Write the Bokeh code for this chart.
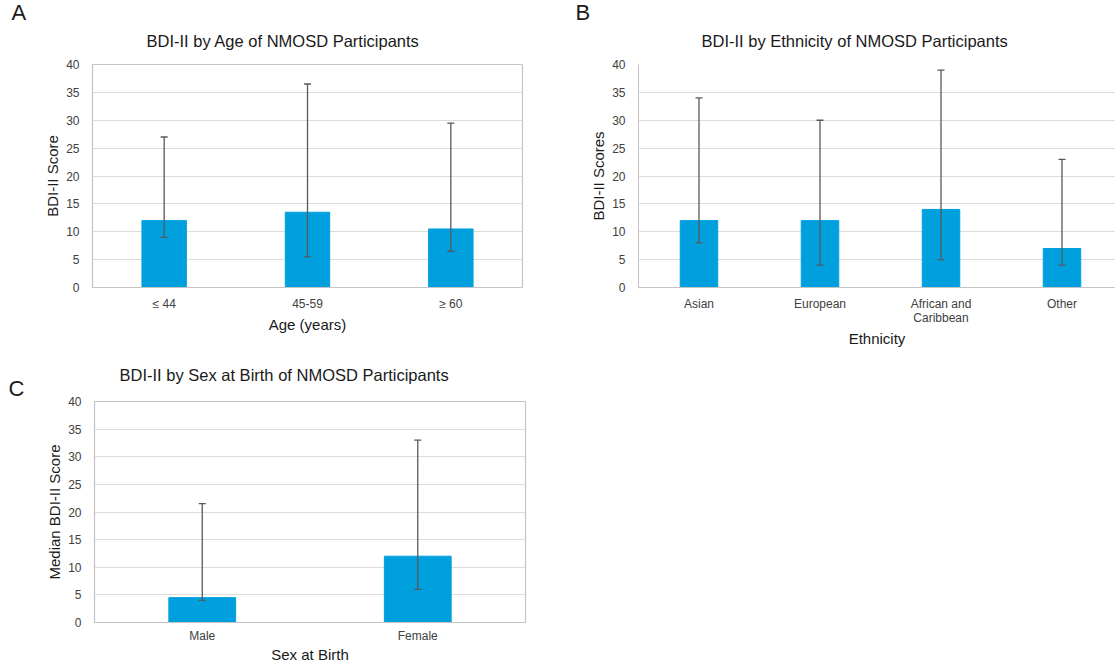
from bokeh.plotting import figure
from bokeh.models import Range1d, FixedTicker, Whisker, TeeHead, ColumnDataSource, Title
from bokeh.layouts import column, row
from bokeh.embed import file_html
from bokeh.resources import INLINE

# ---- data ----
age_cats = ["≤ 44", "45-59", "≥ 60"]
age_median = [12, 13.5, 10.5]
age_low = [9, 5.5, 6.5]
age_high = [27, 36.5, 29.5]

eth_cats = ["Asian", "European", "African and\nCaribbean", "Other"]
eth_median = [12, 12, 14, 7]
eth_low = [8, 4, 5, 4]
eth_high = [34, 30, 39, 23]

sex_cats = ["Male", "Female"]
sex_median = [4.5, 12]
sex_low = [4, 6]
sex_high = [21.5, 33]

y_ticks = [0, 5, 10, 15, 20, 25, 30, 35, 40]

FONT = "Liberation Sans"
BAR = "#00A0DF"
ERR = "#595959"
GRID = "#dcdcdc"
FRAME = "#c4c4c4"
Y_MAX = 40


def make_title(text, size, offset, standoff):
    t = Title(text=text, align="left", offset=offset, text_font=FONT,
              text_font_size=size, text_font_style="normal", text_color="#1a1a1a")
    try:
        t.standoff = standoff
    except Exception:
        t.standoff = 0
    return t


def panel(cats, med, lo, hi, title, ylabel, xlabel, letter,
          frame_w, frame_h, b_left, b_right, b_top, b_bottom,
          px_per_cat=None, title_offset=50, title_standoff=18,
          letter_offset=-80, letter_standoff=0, letter_inner=False, outline=True,
          x_label_standoff=3, x_axis_label_standoff=2):
    n = len(cats)
    xs = list(range(n))
    x_end = -0.5 + frame_w / px_per_cat if px_per_cat else n - 0.5
    p = figure(title=None, frame_width=frame_w, frame_height=frame_h,
               min_border_left=b_left, min_border_right=b_right,
               min_border_top=b_top, min_border_bottom=b_bottom,
               x_range=Range1d(-0.5, x_end), y_range=Range1d(0, Y_MAX),
               output_backend="svg", toolbar_location=None,
               background_fill_color="white", border_fill_color="white")

    main_t = make_title(title, "16.5px", title_offset, title_standoff)
    letter_t = make_title(letter, "22px", letter_offset, letter_standoff)
    if letter_inner:
        p.add_layout(letter_t, "above")
        p.add_layout(main_t, "above")
    else:
        p.add_layout(main_t, "above")
        p.add_layout(letter_t, "above")

    src = ColumnDataSource(dict(x=xs, med=med, lo=lo, hi=hi))
    p.vbar(x="x", top="med", bottom=0, width=0.31, source=src,
           fill_color=BAR, line_color=BAR)
    w = Whisker(source=src, base="x", lower="lo", upper="hi", dimension="height",
                line_color=ERR, line_width=1.3,
                upper_head=TeeHead(size=7, line_color=ERR, line_width=1.3),
                lower_head=TeeHead(size=7, line_color=ERR, line_width=1.3),
                level="overlay")
    p.add_layout(w)

    p.xaxis.ticker = FixedTicker(ticks=xs)
    p.xaxis.major_label_overrides = dict(zip(xs, cats))
    p.yaxis.ticker = FixedTicker(ticks=y_ticks)
    for ax in (p.xaxis, p.yaxis):
        ax.major_tick_line_color = None
        ax.minor_tick_line_color = None
        ax.axis_line_color = FRAME
        ax.major_label_text_font = FONT
        ax.major_label_text_font_size = "12px"
        ax.major_label_text_color = "#404040"
        ax.major_label_text_line_height = 1.0
        ax.axis_label_text_font = FONT
        ax.axis_label_text_font_size = "15px"
        ax.axis_label_text_font_style = "normal"
        ax.axis_label_text_color = "#1a1a1a"
    p.yaxis.major_label_standoff = 7
    p.yaxis.axis_label_standoff = 2
    p.yaxis.axis_label = ylabel
    p.xaxis.major_label_standoff = x_label_standoff
    p.xaxis.axis_label_standoff = x_axis_label_standoff
    p.xaxis.axis_label = xlabel

    p.xgrid.grid_line_color = None
    p.ygrid.ticker = FixedTicker(ticks=y_ticks)
    p.ygrid.grid_line_color = GRID
    p.ygrid.grid_line_width = 1.2
    p.outline_line_color = FRAME if outline else None
    p.outline_line_width = 1.2
    return p


pA = panel(age_cats, age_median, age_low, age_high,
           "BDI-II by Age of NMOSD Participants", "BDI-II Score", "Age (years)", "A",
           frame_w=430, frame_h=223, b_left=92, b_right=38, b_top=64, b_bottom=65,
           title_offset=54, title_standoff=30, letter_offset=-81, letter_standoff=-20)

pB = panel(eth_cats, eth_median, eth_low, eth_high,
           "BDI-II by Ethnicity of NMOSD Participants", "BDI-II Scores", "Ethnicity", "B",
           frame_w=477, frame_h=223, b_left=78, b_right=0, b_top=64, b_bottom=65,
           px_per_cat=121, title_offset=63, title_standoff=30,
           letter_offset=-63, letter_standoff=-20, outline=False)

pC = panel(sex_cats, sex_median, sex_low, sex_high,
           "BDI-II by Sex at Birth of NMOSD Participants", "Median BDI-II Score", "Sex at Birth", "C",
           frame_w=431, frame_h=221, b_left=94, b_right=20, b_top=49, b_bottom=43,
           title_offset=25, title_standoff=-20, letter_offset=-86, letter_standoff=1,
           letter_inner=True, x_label_standoff=0, x_axis_label_standoff=0)

layout = column(row(pA, pB), pC)

open("out.html", "w").write(file_html(layout, INLINE))
